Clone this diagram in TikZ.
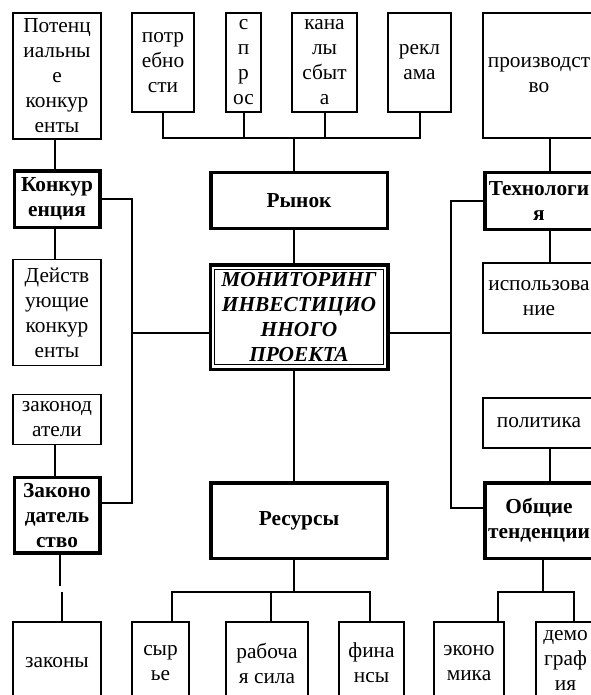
\documentclass[tikz,border=0pt]{standalone}
\usepackage{fontspec}
\setmainfont{Liberation Serif}
\usetikzlibrary{positioning}

\newdimen\pix
\pix=0.75pt
\newcommand\boxfont{\fontsize{16}{18.75}\selectfont}

\begin{document}
\begin{tikzpicture}[
    x=0.75pt, y=-0.75pt,
    box/.style={draw, rectangle, line width=1.5\pix, inner sep=0pt, outer sep=0pt, align=center, font=\boxfont},
    keybox/.style={box, line width=3.5\pix, font=\boxfont\bfseries},
    dim/.style 2 args={minimum width=#1\pix, minimum height=#2\pix},
    wire/.style={line width=2\pix}
]
\useasboundingbox (0,0) rectangle (591,695);
\clip (0,0) rectangle (591,695);

% Nodes
\node [box, dim={88}{126}] (pot) at (57,76) {Потенц\\иальны\\е\\конкур\\енты};
\node [keybox, dim={85.5}{56.5}, below=32\pix of pot] (konk) {Конкур\\енция};
\node [box, dim={88}{106}, below=32\pix of konk] (deyst) {Действ\\ующие\\конкур\\енты};
\node [box, dim={88}{50}, below=29\pix of deyst] (zakd) {законод\\атели};
\node [keybox, dim={85.5}{75.5}, below=33\pix of zakd] (zakon) {Законо\\датель\\ство};
\node [box, dim={88}{82}] (zakony) at (57,663) {законы};

\node [box, dim={62}{99}] (potreb) at (163,62.5) {потр\\ебно\\сти};
\node [box, dim={35}{99}, right=32\pix of potreb] (spros) {с\\п\\р\\ос};
\node [box, dim={65}{99}, right=31\pix of spros] (kanal) {кана\\лы\\сбыт\\а};
\node [box, dim={63}{99}, right=31\pix of kanal] (rekl) {рекл\\ама};

\node [keybox, dim={176.5}{55.5}] (ryn) at (299,200.5) {Рынок};
\node [keybox, dim={177.5}{104.5}, font=\boxfont\bfseries\itshape] (mon) at (299,317) {МОНИТОРИНГ\\ИНВЕСТИЦИО\\ННОГО\\ПРОЕКТА};
\draw [line width=1\pix] ([shift={(4.5\pix,-4.5\pix)}]mon.north west) rectangle ([shift={(-4.5\pix,4.5\pix)}]mon.south east);
\node [keybox, dim={176.5}{75.5}] (res) at (299,520.5) {Ресурсы};

\node [box, dim={112}{125}] (proizv) at (539,75.5) {производст\\во};
\node [keybox, dim={108.5}{56.5}] (tech) at (539,201) {Технологи\\я};
\node [box, dim={112}{70}] (ispol) at (539,298) {использова\\ние};
\node [box, dim={112}{50}] (polit) at (539,423) {политика};
\node [keybox, dim={108.5}{75.5}] (obsh) at (539,520.5) {Общие\\тенденции};

\node [box, dim={57}{82}] (syr) at (160.5,663) {сыр\\ье};
\node [box, dim={82}{82}] (rab) at (267,663) {рабоча\\я сила};
\node [box, dim={65}{82}] (fin) at (371.5,663) {фина\\нсы};
\node [box, dim={70}{82}] (econ) at (469,663) {эконо\\мика};
\node [box, dim={59}{76}] (demo) at (565.5,660) {демо\\граф\\ия};

\coordinate (tbus) at (294,138);
\coordinate (lbus) at (132,333);
\coordinate (rbus) at (451,333);
\coordinate (resbus) at (294,592);
\coordinate (obus) at (543,592);

% Lines
\draw [wire] (potreb.south) |- (tbus) -| (rekl.south);
\draw [wire] (spros.south) -- (spros.south |- tbus);
\draw [wire] (kanal.south) -- (kanal.south |- tbus);
\draw [wire] (tbus) -- (tbus |- ryn.north);
\draw [wire] (tbus |- ryn.south) -- (tbus |- mon.north);
\draw [wire] (tbus |- mon.south) -- (tbus |- res.north);

\draw [wire] ([xshift=-2\pix]pot.south) -- ([xshift=-2\pix]pot.south |- konk.north);
\draw [wire] ([xshift=-2\pix]konk.south) -- ([xshift=-2\pix]konk.south |- deyst.north);
\draw [wire] ([xshift=-2\pix]zakd.south) -- ([xshift=-2\pix]zakd.south |- zakon.north);
\draw [wire] ([xshift=2.5\pix]zakon.south) -- ++(0,-33\pix);
\draw [wire] ([xshift=5\pix]zakony.north) -- ++(0,30\pix);
\draw [wire] (konk.east) -| (lbus) |- ([yshift=12.5\pix]zakon.east);
\draw [wire] (mon.west |- lbus) -- (lbus);

\draw [wire] ([xshift=11\pix]proizv.south) -- ([xshift=11\pix]tech.north);
\draw [wire] ([xshift=11\pix]tech.south) -- ([xshift=11\pix]ispol.north);
\draw [wire] ([xshift=11\pix]polit.south) -- ([xshift=11\pix]obsh.north);
\draw [wire] (tech.west) -| (rbus) |- ([yshift=12.5\pix]obsh.west);
\draw [wire] (mon.east |- rbus) -- (rbus);

\draw [wire] (tbus |- res.south) -- (resbus);
\draw [wire] ([xshift=11.5\pix]syr.north) |- (resbus) -| ([xshift=-1.5\pix]fin.north);
\draw [wire] ([xshift=4\pix]rab.north) -- ([xshift=4\pix]rab.north |- resbus);
\draw [wire] (obus |- obsh.south) -- (obus);
\draw [wire] ([xshift=29\pix]econ.north) |- (obus) -| ([xshift=8.5\pix]demo.north);

\end{tikzpicture}
\end{document}
